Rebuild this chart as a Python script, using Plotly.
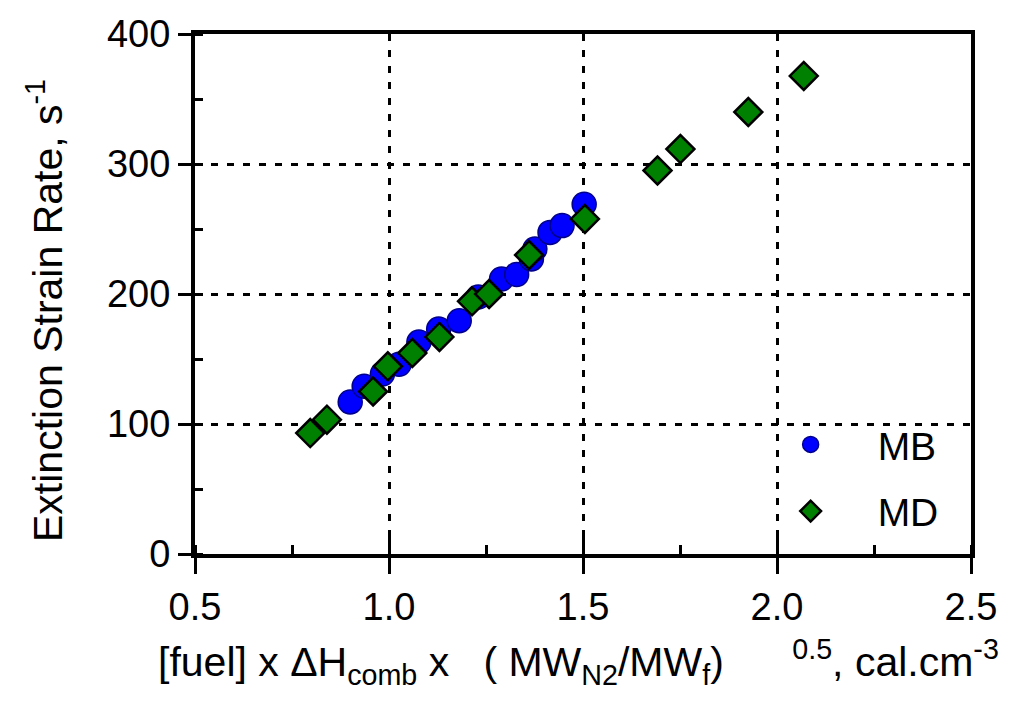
import plotly.graph_objects as go

# MB series (blue circles)
mb_x = [0.90, 0.936, 0.983, 1.026, 1.077, 1.128, 1.181, 1.23, 1.29, 1.329, 1.367, 1.376, 1.415, 1.446, 1.503]
mb_y = [117, 129, 138.5, 146, 163, 173, 179.5, 197.7, 211.5, 215, 227, 234.6, 247.4, 252.6, 269]

# MD series (green diamonds)
md_x = [0.797, 0.840, 0.959, 0.997, 1.06, 1.13, 1.214, 1.258, 1.361, 1.505, 1.692, 1.751, 1.926, 2.069]
md_y = [93, 103.3, 125, 144.4, 154.6, 167, 194.4, 200, 230, 257.7, 295, 311.5, 340, 367.7]

x_ticks = [0.5, 1.0, 1.5, 2.0, 2.5]
x_tick_labels = ["0.5", "1.0", "1.5", "2.0", "2.5"]
y_ticks = [0, 100, 200, 300, 400]
y_tick_labels = ["0", "100", "200", "300", "400"]

FONT = "Liberation Sans, Arial, sans-serif"
FS = 38

fig = go.Figure()
fig.add_trace(go.Scatter(
    x=mb_x, y=mb_y, mode="markers", name="MB", legendgroup="mb",
    marker=dict(symbol="circle", size=24, color="#0000ff",
                line=dict(color="#00008b", width=1.5)),
))
fig.add_trace(go.Scatter(
    x=md_x, y=md_y, mode="markers", name="MD", legendgroup="md",
    marker=dict(symbol="diamond", size=21.5, color="#008000",
                line=dict(color="#000000", width=2.5)),
))
# invisible trace to carry inside major ticks on overlay axis
fig.add_trace(go.Scatter(x=[None], y=[None], xaxis="x2", yaxis="y",
                         showlegend=False, hoverinfo="skip"))

grid_dash = "7px,9px"
fig.update_layout(
    width=1009, height=707,
    margin=dict(l=195, r=36, t=34, b=153),
    paper_bgcolor="white", plot_bgcolor="white",
    font=dict(family=FONT, size=FS, color="black"),
    showlegend=True,
    legend=dict(x=0.707, y=0.272, xanchor="left", yanchor="top",
                bgcolor="rgba(0,0,0,0)", font=dict(size=39),
                tracegroupgap=13, itemwidth=124),
    xaxis=dict(
        range=[0.5, 2.5], tickvals=x_ticks, ticktext=x_tick_labels,
        showline=True, linecolor="black", linewidth=4, mirror=True,
        ticks="outside", ticklen=16, tickwidth=3, tickcolor="black",
        showgrid=True, gridcolor="black", gridwidth=3, griddash=grid_dash,
        minor=dict(ticks="inside", ticklen=9, tickwidth=3, tickcolor="black",
                   dtick=0.25, tick0=0.5, showgrid=False),
        zeroline=False,
        tickfont=dict(size=FS),
    ),
    xaxis2=dict(
        range=[0.5, 2.5], tickvals=x_ticks, overlaying="x", side="bottom",
        showticklabels=False, ticks="inside", ticklen=18, tickwidth=3,
        tickcolor="black", showgrid=False, showline=False, zeroline=False,
    ),
    yaxis=dict(
        range=[0, 400], tickvals=y_ticks, ticktext=y_tick_labels,
        showline=True, linecolor="black", linewidth=4, mirror=True,
        ticks="outside", ticklen=13, tickwidth=3, tickcolor="black",
        showgrid=True, gridcolor="black", gridwidth=3, griddash=grid_dash,
        minor=dict(ticks="inside", ticklen=8, tickwidth=3, tickcolor="black",
                   dtick=50, tick0=0, showgrid=False),
        zeroline=False,
        tickfont=dict(size=FS),
    ),
)

nb = "\u00a0"
x_title = ("[fuel] x ΔH<sub>comb</sub> x " + nb * 2 + "(" + nb + "MW<sub>N2</sub>/MW<sub>f</sub>)"
           + nb * 6 + "<sup>0.5</sup>, cal.cm<sup>-3</sup>")
fig.add_annotation(text=x_title, xref="paper", yref="paper", x=0.494, y=0,
                   xanchor="center", yanchor="middle", yshift=-108,
                   showarrow=False, font=dict(size=41))
fig.add_annotation(text="Extinction Strain Rate, s<sup>-1</sup>", xref="paper", yref="paper",
                   x=0, y=0.5, xanchor="center", yanchor="middle", xshift=-150, yshift=-17,
                   textangle=-90, showarrow=False, font=dict(size=41))

fig.write_html("out.html")
